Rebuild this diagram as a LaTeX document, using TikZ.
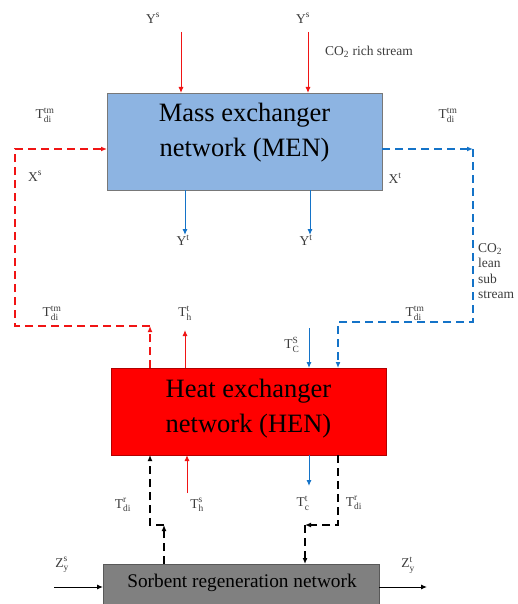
\documentclass[tikz,border=0pt]{standalone}
\usepackage{fontspec}
\setmainfont{Liberation Serif}
\usetikzlibrary{arrows.meta}
\definecolor{menblue}{RGB}{141,180,226}
\definecolor{menedge}{RGB}{120,120,120}
\definecolor{arrblue}{RGB}{20,115,200}
\definecolor{arrred}{RGB}{240,20,20}
\definecolor{henred}{RGB}{255,0,0}
\definecolor{sorbgray}{RGB}{128,128,128}
\definecolor{lblgray}{RGB}{60,60,60}
\newcommand{\lb}[3]{$\mathrm{#1}^{\mathrm{#3}}_{\mathrm{#2}}$}
\tikzset{
  lbl/.style={font=\fontsize{13.5}{15.5}\selectfont, text=lblgray, inner sep=0pt},
  bigbox/.style={draw=menedge, line width=0.8pt, minimum width=275pt, inner sep=0pt},
  bigtext/.style={font=\fontsize{26.5}{30}\selectfont, anchor=base, inner sep=0pt},
  tip/.style={-{Latex[length=6pt,width=5pt]}},
  solidline/.style={tip, line width=1pt},
  dashline/.style={line width=1.6pt, dash pattern=on 8pt off 5pt},
  dashtip/.style={dashline, -{Latex[length=6pt,width=5pt]}},
}
\begin{document}
\begin{tikzpicture}[x=1pt,y=-1pt]
\useasboundingbox (0,0) rectangle (518,604);
\clip (0,0) rectangle (518,604);
% boxes
\node[bigbox, fill=menblue, minimum height=97pt] (men) at (244.5,141.5) {};
\node[bigtext] (men1) at (244.5,122) {Mass exchanger};
\node[bigtext] (men2) at (244.5,157) {network (MEN)};
\node[bigbox, fill=henred, draw=red!70!black, minimum height=87pt] (hen) at (248.5,411.5) {};
\node[bigtext] (hen1) at (248.5,397) {Heat exchanger};
\node[bigtext] (hen2) at (248.5,432) {network (HEN)};
\node[draw=black!65, fill=sorbgray, line width=0.8pt, minimum width=276pt, minimum height=45pt, inner sep=0pt,
  anchor=north west] (sorb) at (103,564) {};
\node[font=\fontsize{19.3}{22}\selectfont, anchor=base, inner sep=0pt] (sorbt) at (242,587) {Sorbent regeneration network};
% labels
\node[lbl] (ys1) at (153,20) {\lb{Y}{}{s}};
\node[lbl] (ys2) at (303,20) {\lb{Y}{}{s}};
\node[lbl, anchor=west] (rich) at (325,52) {CO$_{\mathrm{2}}$ rich stream};
\node[lbl] (tdl1) at (45,115) {\lb{T}{di}{tm}};
\node[lbl] (xs) at (35,178) {\lb{X}{}{s}};
\node[lbl] (tdr1) at (448,115) {\lb{T}{di}{tm}};
\node[lbl] (xt) at (395,180) {\lb{X}{}{t}};
\node[lbl] (yt1) at (183,242) {\lb{Y}{}{t}};
\node[lbl] (yt2) at (306,242) {\lb{Y}{}{t}};
\node[lbl, anchor=west, align=left] (lean) at (478,271) {CO$_{\mathrm{2}}$\\lean\\sub\\stream};
\node[lbl] (tdl2) at (52,313) {\lb{T}{di}{tm}};
\node[lbl] (tht) at (185,313) {\lb{T}{h}{t}};
\node[lbl] (tdr2) at (415,313) {\lb{T}{di}{tm}};
\node[lbl] (tcs) at (292,345) {\lb{T}{C}{S}};
\node[lbl] (tdrl) at (123,505) {\lb{T}{di}{r}};
\node[lbl] (ths) at (197,505) {\lb{T}{h}{s}};
\node[lbl] (tct) at (303,503) {\lb{T}{c}{t}};
\node[lbl] (tdrr) at (354,503) {\lb{T}{di}{r}};
\node[lbl] (zys) at (62,565) {\lb{Z}{y}{s}};
\node[lbl] (zyt) at (408,565) {\lb{Z}{y}{t}};
% coordinates
\coordinate (a1) at (181,32);  \coordinate (a1e) at (181,93);
\coordinate (a2) at (308,32);  \coordinate (a2e) at (308,93);
\coordinate (b1) at (185,190); \coordinate (b1e) at (185,235);
\coordinate (b2) at (310,190); \coordinate (b2e) at (310,235);
\coordinate (c1) at (185,368); \coordinate (c1e) at (185,330);
\coordinate (c2) at (309,328); \coordinate (c2e) at (309,368);
\coordinate (d1) at (187,493); \coordinate (d1e) at (187,455);
\coordinate (d2) at (309,455); \coordinate (d2e) at (309,486);
\coordinate (rz1) at (150,368); \coordinate (rz2) at (150,326); \coordinate (rz3) at (15,326);
\coordinate (rz4) at (15,149);  \coordinate (rz5) at (107,149);
\coordinate (bz1) at (382,149); \coordinate (bz2) at (473,149); \coordinate (bz3) at (473,322);
\coordinate (bz4) at (338,322); \coordinate (bz5) at (338,368);
\coordinate (kz1) at (164,564); \coordinate (kz2) at (164,525); \coordinate (kz3) at (150,525); \coordinate (kz4) at (150,455);
\coordinate (kr1) at (338,455); \coordinate (kr2) at (338,525); \coordinate (kr3) at (305,525); \coordinate (kr4) at (305,564);
\coordinate (zs) at (54,587); \coordinate (zse) at (103,587);
\coordinate (zt) at (379,587); \coordinate (zte) at (427,587);
% solid arrows
\draw[solidline, arrred] (a1) -- (a1e);
\draw[solidline, arrred] (a2) -- (a2e);
\draw[solidline, arrblue] (b1) -- (b1e);
\draw[solidline, arrblue] (b2) -- (b2e);
\draw[solidline, arrred] (c1) -- (c1e);
\draw[solidline, arrblue] (c2) -- (c2e);
\draw[solidline, arrred] (d1) -- (d1e);
\draw[solidline, arrblue] (d2) -- (d2e);
\draw[solidline, black] (zs) -- (zse);
\draw[solidline, black] (zt) -- (zte);
% dashed loops
\draw[dashtip, arrred] (rz1) -- (rz2);
\draw[dashtip, arrred] (rz2) -- (rz3) -- (rz4) -- (rz5);
\draw[dashtip, arrblue] (bz1) -- (bz2);
\draw[dashtip, arrblue] (bz2) -- (bz3) -- (bz4) -- (bz5);
\draw[dashtip, black] (kz1) -- (kz2);
\draw[dashtip, black] (kz2) -- (kz3) -- (kz4);
\draw[dashtip, black] (kr1) -- (kr2) -- (kr3);
\draw[dashtip, black] (kr3) -- (kr4);
\end{tikzpicture}
\end{document}
